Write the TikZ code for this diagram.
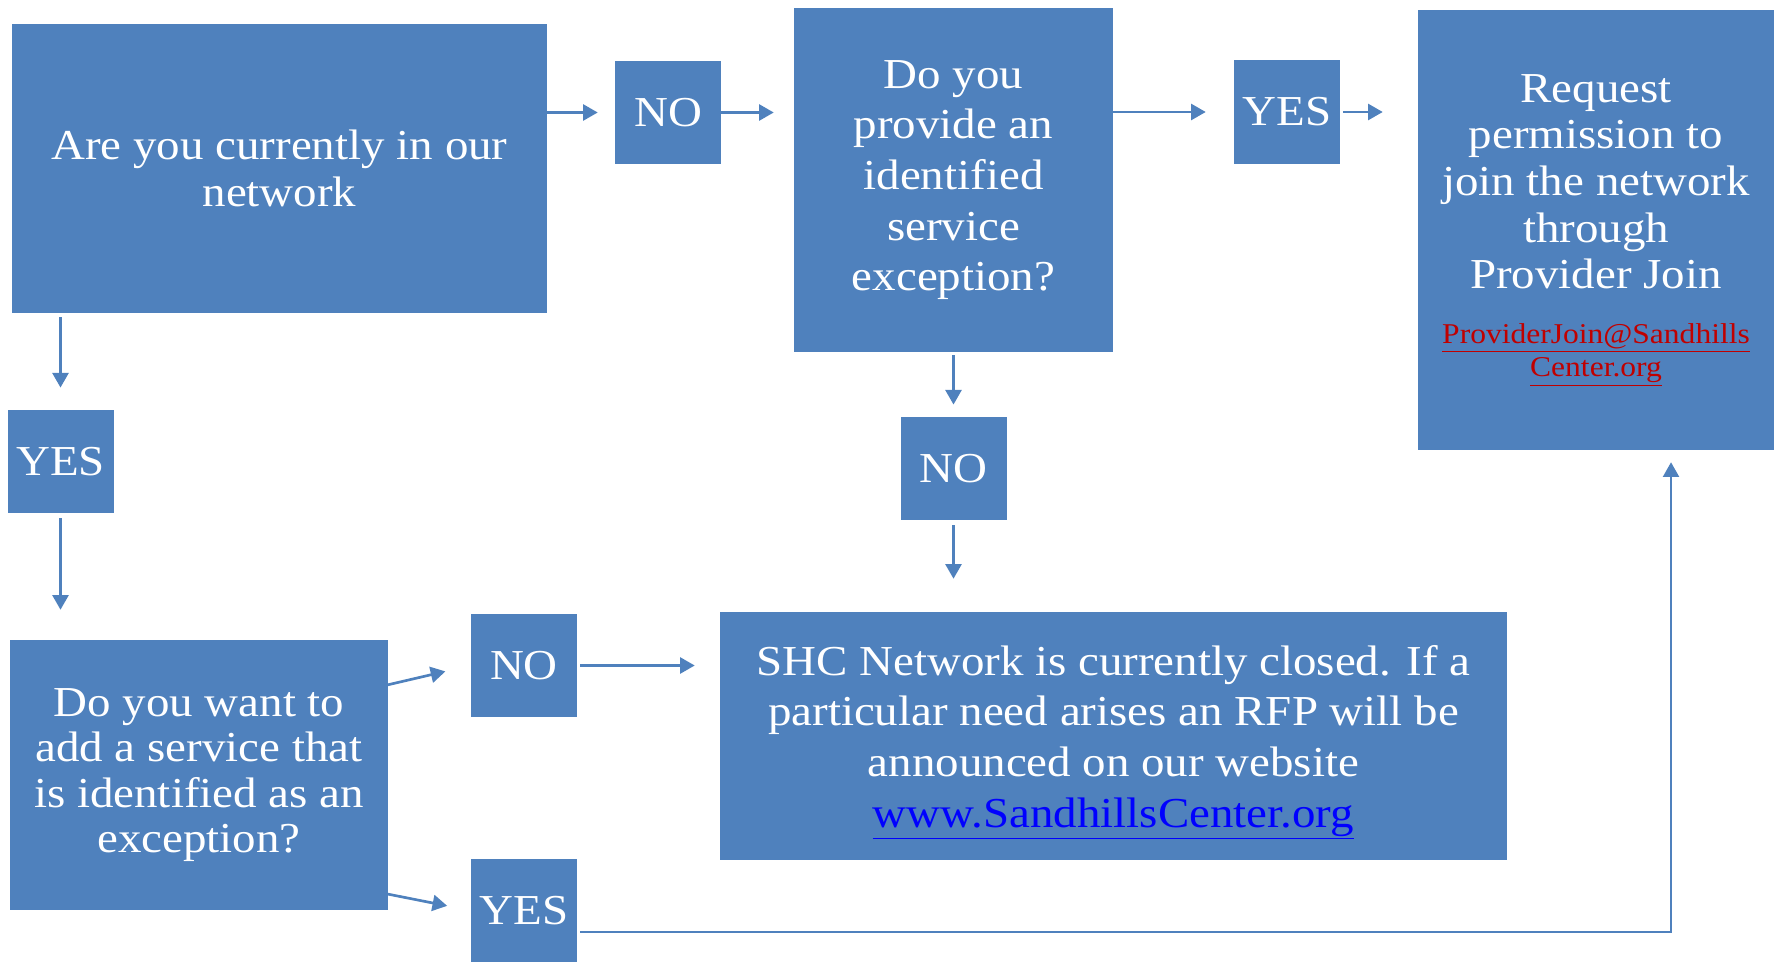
\documentclass[tikz,border=0pt]{standalone}
\usepackage{fontspec}
\setmainfont{Liberation Serif}[FakeStretch=1.1]
\usetikzlibrary{arrows.meta,calc}
\definecolor{boxblue}{HTML}{4F81BD}
\definecolor{linkred}{HTML}{C00000}
\definecolor{linkblue}{HTML}{0000FF}
\newcommand\lnkred[1]{{\fontsize{21.5}{25}\selectfont\color{linkred}\underline{#1}}}
\begin{document}
\begin{tikzpicture}[x=0.75pt,y=-0.75pt,
 box/.style={fill=boxblue, draw=none, text=white, align=center, inner sep=0pt, font=\fontsize{32}{35}\selectfont},
 lab/.style={box, minimum width=79.5pt, minimum height=77.5pt},
 arr/.style={draw=boxblue, line width=2pt, -{Triangle[length=11pt,width=12pt]}}]
\useasboundingbox (0,0) rectangle (1777,962);
\node[box, minimum width=401.25pt, minimum height=216.75pt] (box1) at (279.5,168.5) {Are you currently in our\\network};
\node[lab] (no1) at (668,112.5) {NO};
\node[box, minimum width=239.25pt, minimum height=258pt, font=\fontsize{32}{38}\selectfont] (q2) at (953.5,180) {Do you\\provide an\\identified\\service\\exception?};
\node[lab] (yes1) at (1287,112) {YES};
\node[box, minimum width=267pt, minimum height=330pt] (req) at (1596,230) {Request\\permission to\\join the network\\through\\Provider Join\\[6pt]\lnkred{ProviderJoin@Sandhills}\\[-10pt]\lnkred{Center.org}};
\node[lab] (yesL) at (60.5,461.5) {YES};
\node[box, minimum width=283.5pt, minimum height=202.5pt, font=\fontsize{32}{34}\selectfont] (q3) at (199,775) {Do you want to\\add a service that\\is identified as an\\exception?};
\node[lab] (noM) at (524,665.5) {NO};
\node[lab] (yesB) at (524,910.5) {YES};
\node[lab] (noC) at (953.5,468.5) {NO};
\node[box, minimum width=590.25pt, minimum height=186pt, font=\fontsize{32}{38}\selectfont, text depth=0pt] (shc) at (1113.5,736) {SHC Network is currently closed. If a\\particular need arises an RFP will be\\announced on our website\\{\color{linkblue}\underline{www.SandhillsCenter.org}}};
\coordinate (q3a) at (357,692);
\coordinate (q3b) at (352,887);
\draw[arr, shorten >=12.75pt] (box1.east |- no1.west) -- (no1.west);
\draw[arr, shorten >=15pt] (no1.east) -- (no1.east -| q2.west);
\draw[arr, shorten >=21pt] (q2.east |- yes1.west) -- (yes1.west);
\draw[arr, shorten <=2.25pt, shorten >=26.25pt] (yes1.east) -- (yes1.east -| req.west);
\draw[arr, shorten <=3pt, shorten >=16.5pt] (box1.south -| yesL.north) -- (yesL.north);
\draw[arr, shorten <=3.75pt, shorten >=22.5pt] (yesL.south) -- (yesL.south |- q3.north);
\draw[arr, shorten >=19.5pt] (q3a) -- (noM.west);
\draw[arr, shorten >=18pt] (q3b) -- (yesB.west);
\draw[arr, shorten <=2.25pt, shorten >=18.75pt] (noM.east) -- (noM.east -| shc.west);
\draw[arr, shorten <=2.25pt, shorten >=9pt] (q2.south) -- (noC.north);
\draw[arr, shorten <=3.75pt, shorten >=24.75pt] (noC.south) -- (noC.south |- shc.north);
\draw[arr, line width=1.6pt, shorten >=9pt] ($(yesB.east)+(3,21.5)$) -| ($(req.south)+(75,0)$);
\end{tikzpicture}
\end{document}
